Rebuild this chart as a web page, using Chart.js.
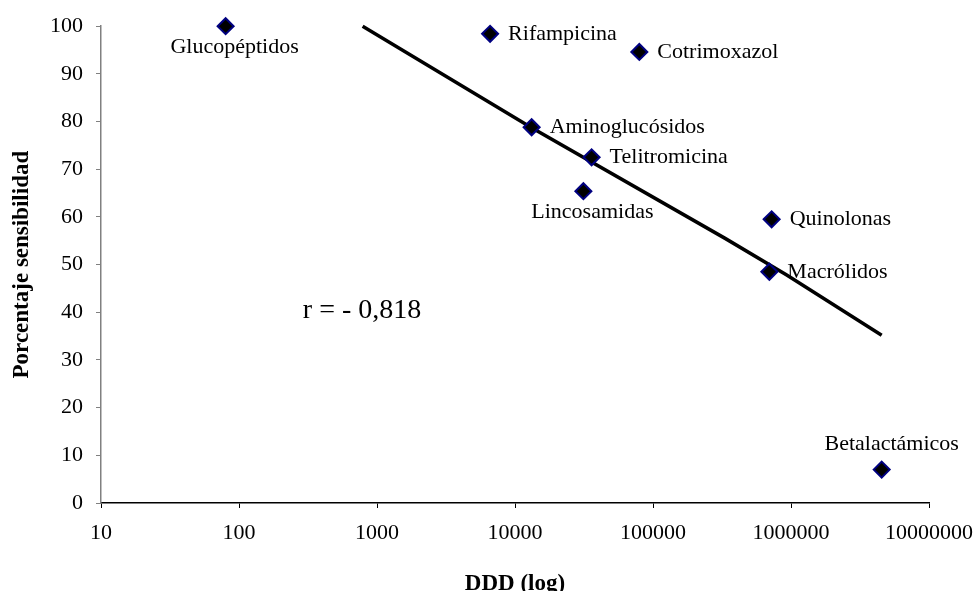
<!DOCTYPE html>
<html>
<head>
<meta charset="utf-8">
<script src="https://cdn.jsdelivr.net/npm/chart.js@4/dist/chart.umd.min.js"></script>
<style>
  html, body { margin: 0; padding: 0; background: #fff; }
  #wrap { width: 979px; height: 591px; position: relative; }
</style>
</head>
<body>
<div id="wrap"><canvas id="scatter"></canvas></div>
<script>
// antibiotic groups, consumption (DDD) and sensitivity (%)
var groups = ['Glucopéptidos', 'Rifampicina', 'Cotrimoxazol', 'Aminoglucósidos', 'Telitromicina',
              'Lincosamidas', 'Quinolonas', 'Macrólidos', 'Betalactámicos'];
var ddd = [80, 6600, 79600, 13200, 35900, 31300, 724000, 697000, 4540000];
var sensibilidad = [100, 98.4, 94.6, 78.8, 72.5, 65.4, 59.5, 48.5, 7.0];

// regression line as drawn
var trendX = [787, 13200, 333000, 931000, 4540000];
var trendY = [100, 78.7, 55.5, 47.8, 35.2];

var xTicks = [10, 100, 1000, 10000, 100000, 1000000, 10000000];
var rText = 'r = - 0,818';

var serif = "'Liberation Serif', 'Times New Roman', serif";

var labelPlugin = {
    id: 'pointLabels',
    afterDatasetsDraw: function(chart) {
        var ctx = chart.ctx;
        var meta = chart.getDatasetMeta(0);
        var below = ['Glucopéptidos', 'Lincosamidas'];
        var above = ['Betalactámicos'];
        ctx.save();
        ctx.fillStyle = '#000';
        ctx.font = '22px ' + serif;
        ctx.textBaseline = 'middle';
        meta.data.forEach(function(pt, i) {
            var name = groups[i];
            if (below.indexOf(name) >= 0) {
                ctx.textAlign = 'center';
                ctx.fillText(name, pt.x + 9, pt.y + 21);
            } else if (above.indexOf(name) >= 0) {
                ctx.textAlign = 'center';
                ctx.fillText(name, pt.x + 10, pt.y - 25);
            } else {
                ctx.textAlign = 'left';
                ctx.fillText(name, pt.x + 18, pt.y);
            }
        });
        // correlation text
        var xs = chart.scales.x, ys = chart.scales.y;
        ctx.font = '28px ' + serif;
        ctx.textAlign = 'left';
        ctx.fillText(rText, xs.getPixelForValue(290), ys.getPixelForValue(40.3));
        ctx.restore();
    }
};

var ctx = document.getElementById('scatter').getContext('2d');
var chart = new Chart(ctx, {
    type: 'scatter',
    data: {
        datasets: [{
            label: 'Sensibilidad',
            data: ddd.map(function(v, i) { return { x: v, y: sensibilidad[i] }; }),
            pointStyle: 'rectRot',
            pointRadius: 8,
            pointHoverRadius: 8,
            backgroundColor: '#000',
            borderColor: '#000080',
            borderWidth: 2,
            clip: false,
            order: 1
        }, {
            label: 'Tendencia',
            type: 'line',
            data: trendX.map(function(v, i) { return { x: v, y: trendY[i] }; }),
            borderColor: '#000',
            borderWidth: 3.5,
            pointRadius: 0,
            tension: 0,
            fill: false,
            clip: false,
            order: 2
        }]
    },
    options: {
        responsive: true,
        maintainAspectRatio: false,
        animation: false,
        layout: { padding: { left: 0, top: 26, right: 50, bottom: 0 } },
        plugins: {
            legend: { display: false },
            tooltip: { enabled: false }
        },
        scales: {
            x: {
                type: 'logarithmic',
                min: 10,
                max: 10000000,
                border: { color: '#000', width: 1.5 },
                grid: { drawOnChartArea: false, drawTicks: true, tickLength: 5, color: '#000' },
                afterBuildTicks: function(scale) {
                    scale.ticks = xTicks.map(function(v) { return { value: v }; });
                },
                afterFit: function(scale) {
                    scale.height = 88;
                    scale.paddingLeft = 0;
                    scale.paddingRight = 0;
                },
                ticks: {
                    autoSkip: false,
                    maxRotation: 0,
                    padding: 12,
                    color: '#000',
                    font: { family: serif, size: 22 },
                    callback: function(v) { return String(v); }
                },
                title: {
                    display: true,
                    text: 'DDD (log)',
                    color: '#000',
                    font: { family: serif, size: 23, weight: 'bold', lineHeight: 1 },
                    padding: { top: 0, bottom: -5 }
                }
            },
            y: {
                min: 0,
                max: 100,
                border: { color: '#808080', width: 1.5 },
                grid: { drawOnChartArea: false, drawTicks: true, tickLength: 5, color: '#808080' },
                afterFit: function(scale) { scale.width = 101; },
                ticks: {
                    stepSize: 10,
                    padding: 13,
                    color: '#000',
                    font: { family: serif, size: 22 }
                },
                title: {
                    display: true,
                    text: 'Porcentaje sensibilidad',
                    color: '#000',
                    font: { family: serif, size: 23, weight: 'bold' },
                    padding: { top: 8, bottom: 0 }
                }
            }
        }
    },
    plugins: [labelPlugin]
});
</script>
</body>
</html>
